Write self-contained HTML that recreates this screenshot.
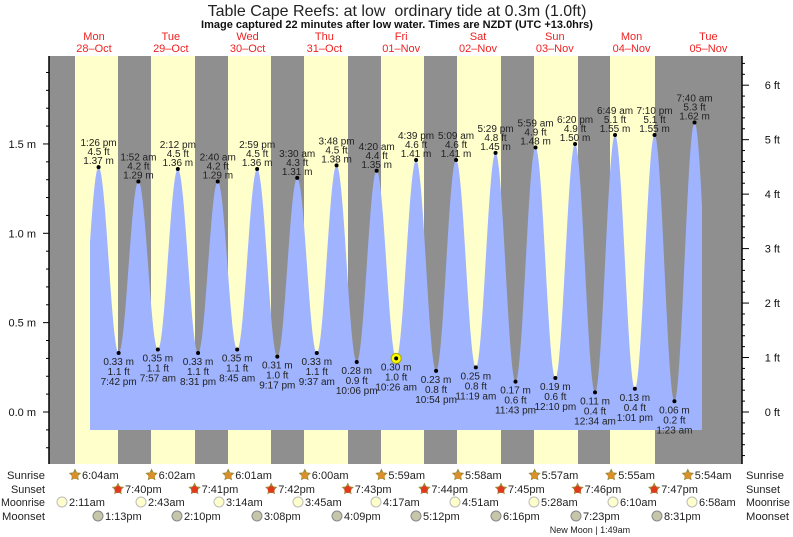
<!DOCTYPE html>
<html><head><meta charset="utf-8"><style>
body{margin:0;background:#fff;}
svg{display:block;font-family:"Liberation Sans",sans-serif;}
</style></head><body>
<svg id="s" width="793" height="537" xmlns="http://www.w3.org/2000/svg"></svg>
<script>
const S=document.getElementById('s');let h='';
const X0=55.6,PX=3.2,Y0=412,PM=178.7;
const X=t=>X0+t*PX, Y=m=>Y0-m*PM;
h+='<text x="397" y="16" font-size="16" text-anchor="middle" fill="#222">Table Cape Reefs: at low&#160; ordinary tide at 0.3m (1.0ft)</text>';
h+='<text x="397" y="28" font-size="11" font-weight="bold" text-anchor="middle" fill="#111">Image captured 22 minutes after low water. Times are NZDT (UTC +13.0hrs)</text>';
const days=[['Mon','28\u2013Oct'],['Tue','29\u2013Oct'],['Wed','30\u2013Oct'],['Thu','31\u2013Oct'],['Fri','01\u2013Nov'],['Sat','02\u2013Nov'],['Sun','03\u2013Nov'],['Mon','04\u2013Nov'],['Tue','05\u2013Nov']];
days.forEach((d,i)=>{const x=X(i*24+12);h+=`<text x="${x}" y="40" font-size="11" fill="#e22" text-anchor="middle">${d[0]}</text><text x="${x}" y="52" font-size="11" fill="#e22" text-anchor="middle">${d[1]}</text>`;});
h+='<rect x="49" y="56" width="693" height="408" fill="#8f8f8f"/>';
const yb=[[75,118],[151,195],[228,271],[304,348],[381,424],[457,501],[534,578],[610,655]];
yb.forEach(b=>h+=`<rect x="${b[0]}" y="56" width="${b[1]-b[0]}" height="408" fill="#ffffcc"/>`);
const E=[[7.3,0.33,0],[13.43,1.37,'1:26 pm'],[19.7,0.33,'7:42 pm'],[25.87,1.29,'1:52 am'],[31.95,0.35,'7:57 am'],[38.2,1.36,'2:12 pm'],[44.52,0.33,'8:31 pm'],[50.67,1.29,'2:40 am'],[56.75,0.35,'8:45 am'],[62.98,1.36,'2:59 pm'],[69.28,0.31,'9:17 pm'],[75.5,1.31,'3:30 am'],[81.62,0.33,'9:37 am'],[87.8,1.38,'3:48 pm'],[94.1,0.28,'10:06 pm'],[100.33,1.35,'4:20 am'],[106.43,0.30,'10:26 am'],[112.65,1.41,'4:39 pm'],[118.9,0.23,'10:54 pm'],[125.15,1.41,'5:09 am'],[131.32,0.25,'11:19 am'],[137.48,1.45,'5:29 pm'],[143.72,0.17,'11:43 pm'],[149.98,1.48,'5:59 am'],[156.17,0.19,'12:10 pm'],[162.33,1.50,'6:20 pm'],[168.57,0.11,'12:34 am'],[174.82,1.55,'6:49 am'],[181.02,0.13,'1:01 pm'],[187.17,1.55,'7:10 pm'],[193.38,0.06,'1:23 am'],[199.67,1.62,'7:40 am'],[206,0.05,0]];
function lv(t){for(let i=0;i<E.length-1;i++){const a=E[i],b=E[i+1];if(t>=a[0]&&t<=b[0]){const f=(t-a[0])/(b[0]-a[0]);return a[1]+(b[1]-a[1])*(1-Math.cos(Math.PI*f))/2;}}return 0;}
let p='M90,430';for(let x=90;x<=702;x+=0.5){p+=` L${x},${Y(lv((x-X0)/PX)).toFixed(1)}`;}p+=' L702,430 Z';
h+=`<path d="${p}" fill="#9fb3ff"/>`;
E.forEach((e,i)=>{if(!e[2])return;const x=X(e[0]),y=Y(e[1]),ft=(e[1]/0.3048).toFixed(1),hi=e[1]>0.8;
if(e[2]==='10:26 am')h+=`<circle cx="${x}" cy="${y}" r="5" fill="#ff0" stroke="#aa0"/>`;
h+=`<circle cx="${x}" cy="${y}" r="2" fill="#000"/>`;
const t=`font-size="10" fill="#222" text-anchor="middle"`;
if(hi)h+=`<text x="${x}" y="${y-21}" ${t}>${e[2]}</text><text x="${x}" y="${y-12}" ${t}>${ft} ft</text><text x="${x}" y="${y-3}" ${t}>${e[1].toFixed(2)} m</text>`;
else h+=`<text x="${x}" y="${y+12}" ${t}>${e[1].toFixed(2)} m</text><text x="${x}" y="${y+22}" ${t}>${ft} ft</text><text x="${x}" y="${y+32}" ${t}>${e[2]}</text>`;});
h+='<line x1="49" y1="56" x2="49" y2="464" stroke="#000" stroke-width="1.5"/><line x1="742" y1="56" x2="742" y2="464" stroke="#000" stroke-width="1.5"/>';
for(let m=-0.2;m<=2.0;m+=0.1){const y=Y(m);if(y<56||y>464)continue;const maj=Math.abs(m*2-Math.round(m*2))<0.01&&m>-0.05&&m<1.55;h+=`<line x1="${maj?43:46}" y1="${y}" x2="49" y2="${y}" stroke="#000"/>`;if(maj)h+=`<text x="36" y="${y+4}" font-size="11" text-anchor="end" fill="#111">${m.toFixed(1)} m</text>`;}
for(let f=-1;f<=6.6;f+=0.2){const y=Y(f*0.3048);if(y<56||y>465)continue;const maj=Math.abs(f-Math.round(f))<0.01;h+=`<line x1="742" y1="${y}" x2="${maj?749:745}" y2="${y}" stroke="#000"/>`;if(maj)h+=`<text x="780" y="${y+4}" font-size="11" text-anchor="end" fill="#111">${Math.round(f)===-1?'\u22121':Math.round(f)} ft</text>`;}
const rows=[['Sunrise',475,38],['Sunset',489,34],['Moonrise',502,44],['Moonset',516,43]];
rows.forEach(r=>{h+=`<text x="${45-r[2]}" y="${r[1]+4}" font-size="11" textLength="${r[2]}" lengthAdjust="spacingAndGlyphs" fill="#222">${r[0]}</text><text x="746" y="${r[1]+4}" font-size="11" textLength="${r[2]}" lengthAdjust="spacingAndGlyphs" fill="#222">${r[0]}</text>`;});
function star(cx,cy,c){let q='';for(let k=0;k<10;k++){const a=-Math.PI/2+k*Math.PI/5,r=k%2?3.2:6.5;q+=(cx+r*Math.cos(a)).toFixed(1)+','+(cy+r*Math.sin(a)).toFixed(1)+' ';}return `<polygon points="${q}" fill="#9a8a3a"/><circle cx="${cx}" cy="${cy+0.5}" r="3.5" fill="${c}"/>`;}
const sr=['6:04am','6:02am','6:01am','6:00am','5:59am','5:58am','5:57am','5:55am','5:54am'],ss=['7:40pm','7:41pm','7:42pm','7:43pm','7:44pm','7:45pm','7:46pm','7:47pm'];
const tx=(x,y,s)=>`<text x="${x}" y="${y+4}" font-size="11" fill="#222">${s}</text>`;
sr.forEach((s,i)=>{const x=75+i*76.6;h+=star(x,475,'#d9902a')+tx(x+7,475,s);});
ss.forEach((s,i)=>{const x=118+i*76.6;h+=star(x,489,'#e03a1a')+tx(x+7,489,s);});
const mr=[[62,'2:11am'],[141,'2:43am'],[219,'3:14am'],[298,'3:45am'],[376,'4:17am'],[455,'4:51am'],[534,'5:28am'],[613,'6:10am'],[692,'6:58am']];
mr.forEach(m=>h+=`<circle cx="${m[0]}" cy="502" r="5" fill="#ffffcc" stroke="#bbb"/>`+tx(m[0]+7,502,m[1]));
const ms=[[98,'1:13pm'],[177,'2:10pm'],[257,'3:08pm'],[337,'4:09pm'],[416,'5:12pm'],[496,'6:16pm'],[576,'7:23pm'],[657,'8:31pm']];
ms.forEach(m=>h+=`<circle cx="${m[0]}" cy="516" r="5" fill="#c6c6aa" stroke="#888"/>`+tx(m[0]+7,516,m[1]));
h+='<text x="590" y="533" font-size="9" text-anchor="middle" fill="#222">New Moon | 1:49am</text>';
S.innerHTML=h;
</script>
</body></html>
